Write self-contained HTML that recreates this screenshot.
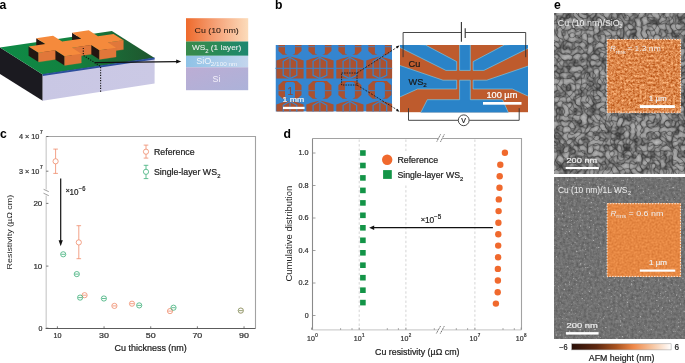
<!DOCTYPE html>
<html><head><meta charset="utf-8"><style>
html,body{margin:0;padding:0;background:#fff;width:685px;height:363px;overflow:hidden}
svg{display:block;will-change:transform}
text{font-family:"Liberation Sans", sans-serif}
</style></head><body>
<svg width="685" height="363" viewBox="0 0 685 363" font-family='"Liberation Sans", sans-serif'>
<defs>
<linearGradient id="gfront" x1="0" y1="0" x2="1" y2="0"><stop offset="0" stop-color="#c9c7e4"/><stop offset="1" stop-color="#cbc9e5"/></linearGradient>
<linearGradient id="ggreen" x1="0" y1="0" x2="1" y2="0"><stop offset="0" stop-color="#0e8a46"/><stop offset="0.5" stop-color="#13813f"/><stop offset="0.8" stop-color="#1c6434"/><stop offset="1" stop-color="#1f552d"/></linearGradient>
<linearGradient id="gcu" x1="0" y1="0" x2="1" y2="0"><stop offset="0" stop-color="#ee6a2c"/><stop offset="0.5" stop-color="#f6a47a"/><stop offset="1" stop-color="#fcdcbb"/></linearGradient>
<linearGradient id="gsio" x1="0" y1="0" x2="1" y2="0"><stop offset="0" stop-color="#8ec2e6"/><stop offset="1" stop-color="#c4d6ee"/></linearGradient>
<linearGradient id="gsi" x1="0" y1="0" x2="1" y2="1"><stop offset="0" stop-color="#bcadd4"/><stop offset="1" stop-color="#acb2d9"/></linearGradient>
<linearGradient id="gws" x1="0" y1="0" x2="1" y2="0"><stop offset="0" stop-color="#3a8a4c"/><stop offset="0.5" stop-color="#2a8a58"/><stop offset="1" stop-color="#1e8770"/></linearGradient>
<linearGradient id="gcbar" x1="0" y1="0" x2="1" y2="0"><stop offset="0" stop-color="#2a1008"/><stop offset="0.25" stop-color="#5e2810"/><stop offset="0.45" stop-color="#a9531f"/><stop offset="0.62" stop-color="#ef8848"/><stop offset="0.82" stop-color="#f7c8a5"/><stop offset="1" stop-color="#ffffff"/></linearGradient>
<filter id="sem1" x="0" y="0" width="1" height="1" color-interpolation-filters="sRGB">
  <feTurbulence type="fractalNoise" baseFrequency="0.165" numOctaves="1" seed="10" result="n1"/>
  <feColorMatrix in="n1" type="matrix" values="1 0 0 0 0  1 0 0 0 0  1 0 0 0 0  0 0 0 0 1" result="g1"/>
  <feComponentTransfer in="g1" result="c1"><feFuncR type="table" tableValues="1.000 1.000 1.000 1.000 1.000 1.000 1.000 1.000 1.000 1.000 1.000 1.000 1.000 0.997 0.991 0.984 0.977 0.971 0.964 0.957 0.951 0.944 0.937 0.931 0.924 0.887 0.806 0.724 0.643 0.561 0.480 0.561 0.643 0.724 0.806 0.887 0.924 0.931 0.937 0.944 0.951 0.957 0.964 0.971 0.977 0.984 0.991 0.997 1.000 1.000 1.000 1.000 1.000 1.000 1.000 1.000 1.000 1.000 1.000 1.000 1.000"/><feFuncG type="table" tableValues="1.000 1.000 1.000 1.000 1.000 1.000 1.000 1.000 1.000 1.000 1.000 1.000 1.000 0.997 0.991 0.984 0.977 0.971 0.964 0.957 0.951 0.944 0.937 0.931 0.924 0.887 0.806 0.724 0.643 0.561 0.480 0.561 0.643 0.724 0.806 0.887 0.924 0.931 0.937 0.944 0.951 0.957 0.964 0.971 0.977 0.984 0.991 0.997 1.000 1.000 1.000 1.000 1.000 1.000 1.000 1.000 1.000 1.000 1.000 1.000 1.000"/><feFuncB type="table" tableValues="1.000 1.000 1.000 1.000 1.000 1.000 1.000 1.000 1.000 1.000 1.000 1.000 1.000 0.997 0.991 0.984 0.977 0.971 0.964 0.957 0.951 0.944 0.937 0.931 0.924 0.887 0.806 0.724 0.643 0.561 0.480 0.561 0.643 0.724 0.806 0.887 0.924 0.931 0.937 0.944 0.951 0.957 0.964 0.971 0.977 0.984 0.991 0.997 1.000 1.000 1.000 1.000 1.000 1.000 1.000 1.000 1.000 1.000 1.000 1.000 1.000"/></feComponentTransfer>
  <feTurbulence type="fractalNoise" baseFrequency="0.165" numOctaves="1" seed="23" result="n2"/>
  <feColorMatrix in="n2" type="matrix" values="1 0 0 0 0  1 0 0 0 0  1 0 0 0 0  0 0 0 0 1" result="g2"/>
  <feComponentTransfer in="g2" result="c2"><feFuncR type="table" tableValues="1.000 1.000 1.000 1.000 1.000 1.000 1.000 1.000 1.000 1.000 1.000 1.000 1.000 0.997 0.991 0.984 0.977 0.971 0.964 0.957 0.951 0.944 0.937 0.931 0.924 0.887 0.806 0.724 0.643 0.561 0.480 0.561 0.643 0.724 0.806 0.887 0.924 0.931 0.937 0.944 0.951 0.957 0.964 0.971 0.977 0.984 0.991 0.997 1.000 1.000 1.000 1.000 1.000 1.000 1.000 1.000 1.000 1.000 1.000 1.000 1.000"/><feFuncG type="table" tableValues="1.000 1.000 1.000 1.000 1.000 1.000 1.000 1.000 1.000 1.000 1.000 1.000 1.000 0.997 0.991 0.984 0.977 0.971 0.964 0.957 0.951 0.944 0.937 0.931 0.924 0.887 0.806 0.724 0.643 0.561 0.480 0.561 0.643 0.724 0.806 0.887 0.924 0.931 0.937 0.944 0.951 0.957 0.964 0.971 0.977 0.984 0.991 0.997 1.000 1.000 1.000 1.000 1.000 1.000 1.000 1.000 1.000 1.000 1.000 1.000 1.000"/><feFuncB type="table" tableValues="1.000 1.000 1.000 1.000 1.000 1.000 1.000 1.000 1.000 1.000 1.000 1.000 1.000 0.997 0.991 0.984 0.977 0.971 0.964 0.957 0.951 0.944 0.937 0.931 0.924 0.887 0.806 0.724 0.643 0.561 0.480 0.561 0.643 0.724 0.806 0.887 0.924 0.931 0.937 0.944 0.951 0.957 0.964 0.971 0.977 0.984 0.991 0.997 1.000 1.000 1.000 1.000 1.000 1.000 1.000 1.000 1.000 1.000 1.000 1.000 1.000"/></feComponentTransfer>
  <feComposite in="c1" in2="c2" operator="arithmetic" k1="1" k2="0" k3="0" k4="0" result="c"/>
  <feTurbulence type="fractalNoise" baseFrequency="0.45" numOctaves="1" seed="21" result="m0"/>
  <feColorMatrix in="m0" type="matrix" values="0 0.22 0 0 0.625  0 0.22 0 0 0.625  0 0.22 0 0 0.625  0 0 0 0 1" result="m"/>
  <feComposite in="c" in2="m" operator="arithmetic" k1="1" k2="0" k3="0" k4="0" result="cm"/>
  <feGaussianBlur in="cm" stdDeviation="1.6" result="bl"/><feComposite in="cm" in2="bl" operator="arithmetic" k1="0" k2="0.65" k3="0.35" k4="0" result="mix"/><feGaussianBlur in="mix" stdDeviation="0.5"/>
</filter>
<filter id="sem2" x="0" y="0" width="1" height="1" color-interpolation-filters="sRGB">
  <feTurbulence type="fractalNoise" baseFrequency="0.38" numOctaves="2" seed="3" result="n"/>
  <feColorMatrix in="n" type="matrix" values="0.22 0 0 0 0.33  0.22 0 0 0 0.33  0.22 0 0 0 0.33  0 0 0 0 1" result="base"/>
  <feTurbulence type="fractalNoise" baseFrequency="0.55" numOctaves="1" seed="12" result="s0"/>
  <feColorMatrix in="s0" type="matrix" values="1 0 0 0 0  1 0 0 0 0  1 0 0 0 0  0 0 0 0 1" result="s1"/>
  <feComponentTransfer in="s1" result="sp"><feFuncR type="table" tableValues="0.000 0.000 0.000 0.000 0.000 0.000 0.000 0.000 0.000 0.000 0.000 0.000 0.000 0.000 0.000 0.000 0.000 0.000 0.000 0.000 0.000 0.000 0.000 0.000 0.000 0.000 0.000 0.028 0.073 0.119 0.165 0.211 0.220 0.220 0.220 0.220 0.220 0.220 0.220 0.220 0.220"/><feFuncG type="table" tableValues="0.000 0.000 0.000 0.000 0.000 0.000 0.000 0.000 0.000 0.000 0.000 0.000 0.000 0.000 0.000 0.000 0.000 0.000 0.000 0.000 0.000 0.000 0.000 0.000 0.000 0.000 0.000 0.028 0.073 0.119 0.165 0.211 0.220 0.220 0.220 0.220 0.220 0.220 0.220 0.220 0.220"/><feFuncB type="table" tableValues="0.000 0.000 0.000 0.000 0.000 0.000 0.000 0.000 0.000 0.000 0.000 0.000 0.000 0.000 0.000 0.000 0.000 0.000 0.000 0.000 0.000 0.000 0.000 0.000 0.000 0.000 0.000 0.028 0.073 0.119 0.165 0.211 0.220 0.220 0.220 0.220 0.220 0.220 0.220 0.220 0.220"/></feComponentTransfer>
  <feComposite in="base" in2="sp" operator="arithmetic" k1="0" k2="1" k3="1" k4="0" result="bs"/>
  <feGaussianBlur in="bs" stdDeviation="0.35"/>
</filter>
<filter id="afm1" x="0" y="0" width="1" height="1" color-interpolation-filters="sRGB">
  <feTurbulence type="fractalNoise" baseFrequency="0.45" numOctaves="3" seed="11" result="n"/>
  <feColorMatrix in="n" type="matrix" values="0.45 0 0 0 0.635  0.65 0 0 0 0.20  0.68 0 0 0 -0.05  0 0 0 0 1"/>
</filter>
<filter id="afm2" x="0" y="0" width="1" height="1" color-interpolation-filters="sRGB">
  <feTurbulence type="fractalNoise" baseFrequency="0.5" numOctaves="2" seed="5" result="n"/>
  <feColorMatrix in="n" type="matrix" values="0.18 0 0 0 0.81  0.2 0 0 0 0.43  0.18 0 0 0 0.17  0 0 0 0 1"/>
</filter>
<clipPath id="cpb1"><rect x="275.5" y="45" width="116.6" height="66.6"/></clipPath>
<clipPath id="cpb2"><rect x="400" y="45" width="128" height="67.4"/></clipPath>
</defs>
<rect width="685" height="363" fill="#fff"/>
<text x="-0.60" y="8.70" font-size="12.20" fill="#000" font-weight="bold">a</text>
<polygon points="0.00,47.40 42.70,74.50 42.70,100.70 0.00,74.00" fill="#1b1a20" />
<polygon points="42.70,74.50 154.60,58.00 154.60,83.60 42.70,100.70" fill="url(#gfront)" />
<polygon points="0.00,47.40 111.90,30.90 154.60,58.00 42.70,74.50" fill="url(#ggreen)" />
<polygon points="42.70,74.10 154.60,57.60 154.60,59.50 42.70,76.00" fill="#2c4f9c" />
<polygon points="97.74,36.24 107.65,42.53 107.65,51.83 97.74,45.54" fill="#241611" />
<polygon points="107.65,42.53 123.43,40.21 123.43,49.51 107.65,51.83" fill="#e1773a" stroke="#e1773a" stroke-width="0.25"/>
<polygon points="72.07,32.82 99.40,50.16 99.40,59.46 72.07,42.12" fill="#241611" />
<polygon points="99.40,50.16 116.07,47.70 116.07,57.00 99.40,59.46" fill="#e1773a" stroke="#e1773a" stroke-width="0.25"/>
<polygon points="62.16,41.49 72.06,47.78 72.06,57.08 62.16,50.79" fill="#241611" />
<polygon points="72.06,47.78 91.20,44.96 91.20,54.26 72.06,57.08" fill="#e1773a" stroke="#e1773a" stroke-width="0.25"/>
<polygon points="36.28,38.19 64.55,56.13 64.55,65.43 36.28,47.49" fill="#241611" />
<polygon points="64.55,56.13 81.33,53.66 81.33,62.96 64.55,65.43" fill="#e1773a" stroke="#e1773a" stroke-width="0.25"/>
<polygon points="28.59,46.44 38.49,52.73 38.49,62.03 28.59,55.74" fill="#241611" />
<polygon points="38.49,52.73 55.28,50.25 55.28,59.55 38.49,62.03" fill="#e1773a" stroke="#e1773a" stroke-width="0.25"/>
<polygon points="28.59,46.44 45.37,43.97 36.28,38.19 53.06,35.72 62.16,41.49 81.29,38.67 72.07,32.82 88.74,30.36 97.97,36.21 113.52,33.92 123.43,40.21 107.87,42.50 116.07,47.70 99.40,50.16 91.20,44.96 72.06,47.78 81.33,53.66 64.55,56.13 55.28,50.25 38.49,52.73" fill="#f58a3c" />
<path d="M83.3,47.9 L83.3,55.3 L100.6,66.4 L100.6,92" fill="none" stroke="#111" stroke-width="1.1" stroke-dasharray="1.2,1.4"/>
<path d="M94.8,62.6 L177.5,61.6" stroke="#111" stroke-width="1.3" fill="none"/>
<polygon points="181.30,61.50 176.20,59.50 176.20,63.60" fill="#111" />
<rect x="186.0" y="18.2" width="62.2" height="23.4" fill="url(#gcu)"/>
<rect x="186.0" y="41.5" width="62.2" height="14.3" fill="url(#gws)"/>
<rect x="186.0" y="55.8" width="62.2" height="11.6" fill="url(#gsio)"/>
<rect x="186.0" y="67.3" width="62.2" height="22.9" fill="url(#gsi)"/>
<text x="194.50" y="32.90" font-size="8.00" fill="#2a1a12" stroke="#2a1a12" stroke-width="0.08" textLength="44.20" lengthAdjust="spacingAndGlyphs">Cu (10 nm)</text>
<text x="191.90" y="50.40" font-size="7.60" fill="#f2f2f2" stroke="#f2f2f2" stroke-width="0.05" textLength="49.40" lengthAdjust="spacingAndGlyphs">WS<tspan font-size="5.4" dy="2.1">2</tspan><tspan dy="-2.1"> (1 layer)</tspan></text>
<text x="196.30" y="63.70" font-size="8.80" fill="#f0f4fa" textLength="15.10" lengthAdjust="spacingAndGlyphs">SiO</text>
<text x="210.80" y="66.00" font-size="5.50" fill="#f0f4fa" textLength="26.60" lengthAdjust="spacingAndGlyphs">2/100 nm</text>
<text x="212.60" y="81.70" font-size="8.80" fill="#f4f0fa" textLength="7.90" lengthAdjust="spacingAndGlyphs">Si</text>
<text x="275.10" y="8.80" font-size="12.20" fill="#000" font-weight="bold">b</text>
<g clip-path="url(#cpb1)">
<rect x="275.5" y="45" width="116.6" height="66.6" fill="#3585cf"/>
<polygon points="246.45,16.50 252.25,14.50 260.05,12.50 267.85,14.50 273.65,16.50 273.65,34.50 246.45,34.50" fill="#aa5130" />
<polygon points="260.1,13.3 266.9,17.3 266.9,31.3 260.1,34.5 253.2,31.3 253.2,17.3" fill="none" stroke="#3585cf" stroke-width="1.2"/>
<path d="M260.1,11.3 L260.1,34.8 M245.1,24.3 L275.1,24.3" stroke="#3585cf" stroke-width="1.0"/>
<polygon points="248.55,41.20 253.05,36.90 267.05,36.90 271.55,41.20 271.55,51.00 267.35,54.80 252.75,54.80 248.55,51.00" fill="#aa5130" />
<rect x="255.1" y="38.0" width="10.0" height="16.4" rx="2.5" fill="#3585cf"/>
<polygon points="254.85,52.20 257.55,55.00 262.55,55.00 265.25,52.20" fill="#3585cf" />
<path d="M248.1,46.7 L255.1,46.7 M265.1,46.7 L272.1,46.7" stroke="#3585cf" stroke-width="0.9"/>
<polygon points="246.45,60.50 252.25,58.50 260.05,56.50 267.85,58.50 273.65,60.50 273.65,78.50 246.45,78.50" fill="#aa5130" />
<polygon points="260.1,57.3 266.9,61.3 266.9,75.3 260.1,78.5 253.2,75.3 253.2,61.3" fill="none" stroke="#3585cf" stroke-width="1.2"/>
<path d="M260.1,55.3 L260.1,78.8 M245.1,68.3 L275.1,68.3" stroke="#3585cf" stroke-width="1.0"/>
<polygon points="248.55,85.20 253.05,80.90 267.05,80.90 271.55,85.20 271.55,95.00 267.35,98.80 252.75,98.80 248.55,95.00" fill="#aa5130" />
<rect x="255.1" y="82.0" width="10.0" height="16.4" rx="2.5" fill="#3585cf"/>
<polygon points="254.85,96.20 257.55,99.00 262.55,99.00 265.25,96.20" fill="#3585cf" />
<path d="M248.1,90.7 L255.1,90.7 M265.1,90.7 L272.1,90.7" stroke="#3585cf" stroke-width="0.9"/>
<polygon points="246.45,104.50 252.25,102.50 260.05,100.50 267.85,102.50 273.65,104.50 273.65,122.50 246.45,122.50" fill="#aa5130" />
<polygon points="260.1,101.3 266.9,105.3 266.9,119.3 260.1,122.5 253.2,119.3 253.2,105.3" fill="none" stroke="#3585cf" stroke-width="1.2"/>
<path d="M260.1,99.3 L260.1,122.8 M245.1,112.3 L275.1,112.3" stroke="#3585cf" stroke-width="1.0"/>
<polygon points="248.55,129.20 253.05,124.90 267.05,124.90 271.55,129.20 271.55,139.00 267.35,142.80 252.75,142.80 248.55,139.00" fill="#aa5130" />
<rect x="255.1" y="126.0" width="10.0" height="16.4" rx="2.5" fill="#3585cf"/>
<polygon points="254.85,140.20 257.55,143.00 262.55,143.00 265.25,140.20" fill="#3585cf" />
<path d="M248.1,134.7 L255.1,134.7 M265.1,134.7 L272.1,134.7" stroke="#3585cf" stroke-width="0.9"/>
<polygon points="276.40,16.50 282.20,14.50 290.00,12.50 297.80,14.50 303.60,16.50 303.60,34.50 276.40,34.50" fill="#aa5130" />
<polygon points="290.0,13.3 296.8,17.3 296.8,31.3 290.0,34.5 283.2,31.3 283.2,17.3" fill="none" stroke="#3585cf" stroke-width="1.2"/>
<path d="M290.0,11.3 L290.0,34.8 M275.0,24.3 L305.0,24.3" stroke="#3585cf" stroke-width="1.0"/>
<polygon points="278.50,41.20 283.00,36.90 297.00,36.90 301.50,41.20 301.50,51.00 297.30,54.80 282.70,54.80 278.50,51.00" fill="#aa5130" />
<rect x="285.0" y="38.0" width="10.0" height="16.4" rx="2.5" fill="#3585cf"/>
<polygon points="284.80,52.20 287.50,55.00 292.50,55.00 295.20,52.20" fill="#3585cf" />
<path d="M278.0,46.7 L285.0,46.7 M295.0,46.7 L302.0,46.7" stroke="#3585cf" stroke-width="0.9"/>
<polygon points="276.40,60.50 282.20,58.50 290.00,56.50 297.80,58.50 303.60,60.50 303.60,78.50 276.40,78.50" fill="#aa5130" />
<polygon points="290.0,57.3 296.8,61.3 296.8,75.3 290.0,78.5 283.2,75.3 283.2,61.3" fill="none" stroke="#3585cf" stroke-width="1.2"/>
<path d="M290.0,55.3 L290.0,78.8 M275.0,68.3 L305.0,68.3" stroke="#3585cf" stroke-width="1.0"/>
<polygon points="278.50,85.20 283.00,80.90 297.00,80.90 301.50,85.20 301.50,95.00 297.30,98.80 282.70,98.80 278.50,95.00" fill="#aa5130" />
<rect x="285.0" y="82.0" width="10.0" height="16.4" rx="2.5" fill="#3585cf"/>
<polygon points="284.80,96.20 287.50,99.00 292.50,99.00 295.20,96.20" fill="#3585cf" />
<path d="M278.0,90.7 L285.0,90.7 M295.0,90.7 L302.0,90.7" stroke="#3585cf" stroke-width="0.9"/>
<polygon points="276.40,104.50 282.20,102.50 290.00,100.50 297.80,102.50 303.60,104.50 303.60,122.50 276.40,122.50" fill="#aa5130" />
<polygon points="290.0,101.3 296.8,105.3 296.8,119.3 290.0,122.5 283.2,119.3 283.2,105.3" fill="none" stroke="#3585cf" stroke-width="1.2"/>
<path d="M290.0,99.3 L290.0,122.8 M275.0,112.3 L305.0,112.3" stroke="#3585cf" stroke-width="1.0"/>
<polygon points="278.50,129.20 283.00,124.90 297.00,124.90 301.50,129.20 301.50,139.00 297.30,142.80 282.70,142.80 278.50,139.00" fill="#aa5130" />
<rect x="285.0" y="126.0" width="10.0" height="16.4" rx="2.5" fill="#3585cf"/>
<polygon points="284.80,140.20 287.50,143.00 292.50,143.00 295.20,140.20" fill="#3585cf" />
<path d="M278.0,134.7 L285.0,134.7 M295.0,134.7 L302.0,134.7" stroke="#3585cf" stroke-width="0.9"/>
<polygon points="306.35,16.50 312.15,14.50 319.95,12.50 327.75,14.50 333.55,16.50 333.55,34.50 306.35,34.50" fill="#aa5130" />
<polygon points="319.9,13.3 326.8,17.3 326.8,31.3 319.9,34.5 313.1,31.3 313.1,17.3" fill="none" stroke="#3585cf" stroke-width="1.2"/>
<path d="M319.9,11.3 L319.9,34.8 M304.9,24.3 L334.9,24.3" stroke="#3585cf" stroke-width="1.0"/>
<polygon points="308.45,41.20 312.95,36.90 326.95,36.90 331.45,41.20 331.45,51.00 327.25,54.80 312.65,54.80 308.45,51.00" fill="#aa5130" />
<rect x="314.9" y="38.0" width="10.0" height="16.4" rx="2.5" fill="#3585cf"/>
<polygon points="314.75,52.20 317.45,55.00 322.45,55.00 325.15,52.20" fill="#3585cf" />
<path d="M307.9,46.7 L314.9,46.7 M324.9,46.7 L331.9,46.7" stroke="#3585cf" stroke-width="0.9"/>
<polygon points="306.35,60.50 312.15,58.50 319.95,56.50 327.75,58.50 333.55,60.50 333.55,78.50 306.35,78.50" fill="#aa5130" />
<polygon points="319.9,57.3 326.8,61.3 326.8,75.3 319.9,78.5 313.1,75.3 313.1,61.3" fill="none" stroke="#3585cf" stroke-width="1.2"/>
<path d="M319.9,55.3 L319.9,78.8 M304.9,68.3 L334.9,68.3" stroke="#3585cf" stroke-width="1.0"/>
<polygon points="308.45,85.20 312.95,80.90 326.95,80.90 331.45,85.20 331.45,95.00 327.25,98.80 312.65,98.80 308.45,95.00" fill="#aa5130" />
<rect x="314.9" y="82.0" width="10.0" height="16.4" rx="2.5" fill="#3585cf"/>
<polygon points="314.75,96.20 317.45,99.00 322.45,99.00 325.15,96.20" fill="#3585cf" />
<path d="M307.9,90.7 L314.9,90.7 M324.9,90.7 L331.9,90.7" stroke="#3585cf" stroke-width="0.9"/>
<polygon points="306.35,104.50 312.15,102.50 319.95,100.50 327.75,102.50 333.55,104.50 333.55,122.50 306.35,122.50" fill="#aa5130" />
<polygon points="319.9,101.3 326.8,105.3 326.8,119.3 319.9,122.5 313.1,119.3 313.1,105.3" fill="none" stroke="#3585cf" stroke-width="1.2"/>
<path d="M319.9,99.3 L319.9,122.8 M304.9,112.3 L334.9,112.3" stroke="#3585cf" stroke-width="1.0"/>
<polygon points="308.45,129.20 312.95,124.90 326.95,124.90 331.45,129.20 331.45,139.00 327.25,142.80 312.65,142.80 308.45,139.00" fill="#aa5130" />
<rect x="314.9" y="126.0" width="10.0" height="16.4" rx="2.5" fill="#3585cf"/>
<polygon points="314.75,140.20 317.45,143.00 322.45,143.00 325.15,140.20" fill="#3585cf" />
<path d="M307.9,134.7 L314.9,134.7 M324.9,134.7 L331.9,134.7" stroke="#3585cf" stroke-width="0.9"/>
<polygon points="336.30,16.50 342.10,14.50 349.90,12.50 357.70,14.50 363.50,16.50 363.50,34.50 336.30,34.50" fill="#aa5130" />
<polygon points="349.9,13.3 356.7,17.3 356.7,31.3 349.9,34.5 343.1,31.3 343.1,17.3" fill="none" stroke="#3585cf" stroke-width="1.2"/>
<path d="M349.9,11.3 L349.9,34.8 M334.9,24.3 L364.9,24.3" stroke="#3585cf" stroke-width="1.0"/>
<polygon points="338.40,41.20 342.90,36.90 356.90,36.90 361.40,41.20 361.40,51.00 357.20,54.80 342.60,54.80 338.40,51.00" fill="#aa5130" />
<rect x="344.9" y="38.0" width="10.0" height="16.4" rx="2.5" fill="#3585cf"/>
<polygon points="344.70,52.20 347.40,55.00 352.40,55.00 355.10,52.20" fill="#3585cf" />
<path d="M337.9,46.7 L344.9,46.7 M354.9,46.7 L361.9,46.7" stroke="#3585cf" stroke-width="0.9"/>
<polygon points="336.30,60.50 342.10,58.50 349.90,56.50 357.70,58.50 363.50,60.50 363.50,78.50 336.30,78.50" fill="#aa5130" />
<polygon points="349.9,57.3 356.7,61.3 356.7,75.3 349.9,78.5 343.1,75.3 343.1,61.3" fill="none" stroke="#3585cf" stroke-width="1.2"/>
<path d="M349.9,55.3 L349.9,78.8 M334.9,68.3 L364.9,68.3" stroke="#3585cf" stroke-width="1.0"/>
<polygon points="338.40,85.20 342.90,80.90 356.90,80.90 361.40,85.20 361.40,95.00 357.20,98.80 342.60,98.80 338.40,95.00" fill="#aa5130" />
<rect x="344.9" y="82.0" width="10.0" height="16.4" rx="2.5" fill="#3585cf"/>
<polygon points="344.70,96.20 347.40,99.00 352.40,99.00 355.10,96.20" fill="#3585cf" />
<path d="M337.9,90.7 L344.9,90.7 M354.9,90.7 L361.9,90.7" stroke="#3585cf" stroke-width="0.9"/>
<polygon points="336.30,104.50 342.10,102.50 349.90,100.50 357.70,102.50 363.50,104.50 363.50,122.50 336.30,122.50" fill="#aa5130" />
<polygon points="349.9,101.3 356.7,105.3 356.7,119.3 349.9,122.5 343.1,119.3 343.1,105.3" fill="none" stroke="#3585cf" stroke-width="1.2"/>
<path d="M349.9,99.3 L349.9,122.8 M334.9,112.3 L364.9,112.3" stroke="#3585cf" stroke-width="1.0"/>
<polygon points="338.40,129.20 342.90,124.90 356.90,124.90 361.40,129.20 361.40,139.00 357.20,142.80 342.60,142.80 338.40,139.00" fill="#aa5130" />
<rect x="344.9" y="126.0" width="10.0" height="16.4" rx="2.5" fill="#3585cf"/>
<polygon points="344.70,140.20 347.40,143.00 352.40,143.00 355.10,140.20" fill="#3585cf" />
<path d="M337.9,134.7 L344.9,134.7 M354.9,134.7 L361.9,134.7" stroke="#3585cf" stroke-width="0.9"/>
<polygon points="366.25,16.50 372.05,14.50 379.85,12.50 387.65,14.50 393.45,16.50 393.45,34.50 366.25,34.50" fill="#aa5130" />
<polygon points="379.9,13.3 386.7,17.3 386.7,31.3 379.9,34.5 373.1,31.3 373.1,17.3" fill="none" stroke="#3585cf" stroke-width="1.2"/>
<path d="M379.9,11.3 L379.9,34.8 M364.9,24.3 L394.9,24.3" stroke="#3585cf" stroke-width="1.0"/>
<polygon points="368.35,41.20 372.85,36.90 386.85,36.90 391.35,41.20 391.35,51.00 387.15,54.80 372.55,54.80 368.35,51.00" fill="#aa5130" />
<rect x="374.9" y="38.0" width="10.0" height="16.4" rx="2.5" fill="#3585cf"/>
<polygon points="374.65,52.20 377.35,55.00 382.35,55.00 385.05,52.20" fill="#3585cf" />
<path d="M367.9,46.7 L374.9,46.7 M384.9,46.7 L391.9,46.7" stroke="#3585cf" stroke-width="0.9"/>
<polygon points="366.25,60.50 372.05,58.50 379.85,56.50 387.65,58.50 393.45,60.50 393.45,78.50 366.25,78.50" fill="#aa5130" />
<polygon points="379.9,57.3 386.7,61.3 386.7,75.3 379.9,78.5 373.1,75.3 373.1,61.3" fill="none" stroke="#3585cf" stroke-width="1.2"/>
<path d="M379.9,55.3 L379.9,78.8 M364.9,68.3 L394.9,68.3" stroke="#3585cf" stroke-width="1.0"/>
<polygon points="368.35,85.20 372.85,80.90 386.85,80.90 391.35,85.20 391.35,95.00 387.15,98.80 372.55,98.80 368.35,95.00" fill="#aa5130" />
<rect x="374.9" y="82.0" width="10.0" height="16.4" rx="2.5" fill="#3585cf"/>
<polygon points="374.65,96.20 377.35,99.00 382.35,99.00 385.05,96.20" fill="#3585cf" />
<path d="M367.9,90.7 L374.9,90.7 M384.9,90.7 L391.9,90.7" stroke="#3585cf" stroke-width="0.9"/>
<polygon points="366.25,104.50 372.05,102.50 379.85,100.50 387.65,102.50 393.45,104.50 393.45,122.50 366.25,122.50" fill="#aa5130" />
<polygon points="379.9,101.3 386.7,105.3 386.7,119.3 379.9,122.5 373.1,119.3 373.1,105.3" fill="none" stroke="#3585cf" stroke-width="1.2"/>
<path d="M379.9,99.3 L379.9,122.8 M364.9,112.3 L394.9,112.3" stroke="#3585cf" stroke-width="1.0"/>
<polygon points="368.35,129.20 372.85,124.90 386.85,124.90 391.35,129.20 391.35,139.00 387.15,142.80 372.55,142.80 368.35,139.00" fill="#aa5130" />
<rect x="374.9" y="126.0" width="10.0" height="16.4" rx="2.5" fill="#3585cf"/>
<polygon points="374.65,140.20 377.35,143.00 382.35,143.00 385.05,140.20" fill="#3585cf" />
<path d="M367.9,134.7 L374.9,134.7 M384.9,134.7 L391.9,134.7" stroke="#3585cf" stroke-width="0.9"/>
<polygon points="396.20,16.50 402.00,14.50 409.80,12.50 417.60,14.50 423.40,16.50 423.40,34.50 396.20,34.50" fill="#aa5130" />
<polygon points="409.8,13.3 416.6,17.3 416.6,31.3 409.8,34.5 403.0,31.3 403.0,17.3" fill="none" stroke="#3585cf" stroke-width="1.2"/>
<path d="M409.8,11.3 L409.8,34.8 M394.8,24.3 L424.8,24.3" stroke="#3585cf" stroke-width="1.0"/>
<polygon points="398.30,41.20 402.80,36.90 416.80,36.90 421.30,41.20 421.30,51.00 417.10,54.80 402.50,54.80 398.30,51.00" fill="#aa5130" />
<rect x="404.8" y="38.0" width="10.0" height="16.4" rx="2.5" fill="#3585cf"/>
<polygon points="404.60,52.20 407.30,55.00 412.30,55.00 415.00,52.20" fill="#3585cf" />
<path d="M397.8,46.7 L404.8,46.7 M414.8,46.7 L421.8,46.7" stroke="#3585cf" stroke-width="0.9"/>
<polygon points="396.20,60.50 402.00,58.50 409.80,56.50 417.60,58.50 423.40,60.50 423.40,78.50 396.20,78.50" fill="#aa5130" />
<polygon points="409.8,57.3 416.6,61.3 416.6,75.3 409.8,78.5 403.0,75.3 403.0,61.3" fill="none" stroke="#3585cf" stroke-width="1.2"/>
<path d="M409.8,55.3 L409.8,78.8 M394.8,68.3 L424.8,68.3" stroke="#3585cf" stroke-width="1.0"/>
<polygon points="398.30,85.20 402.80,80.90 416.80,80.90 421.30,85.20 421.30,95.00 417.10,98.80 402.50,98.80 398.30,95.00" fill="#aa5130" />
<rect x="404.8" y="82.0" width="10.0" height="16.4" rx="2.5" fill="#3585cf"/>
<polygon points="404.60,96.20 407.30,99.00 412.30,99.00 415.00,96.20" fill="#3585cf" />
<path d="M397.8,90.7 L404.8,90.7 M414.8,90.7 L421.8,90.7" stroke="#3585cf" stroke-width="0.9"/>
<polygon points="396.20,104.50 402.00,102.50 409.80,100.50 417.60,102.50 423.40,104.50 423.40,122.50 396.20,122.50" fill="#aa5130" />
<polygon points="409.8,101.3 416.6,105.3 416.6,119.3 409.8,122.5 403.0,119.3 403.0,105.3" fill="none" stroke="#3585cf" stroke-width="1.2"/>
<path d="M409.8,99.3 L409.8,122.8 M394.8,112.3 L424.8,112.3" stroke="#3585cf" stroke-width="1.0"/>
<polygon points="398.30,129.20 402.80,124.90 416.80,124.90 421.30,129.20 421.30,139.00 417.10,142.80 402.50,142.80 398.30,139.00" fill="#aa5130" />
<rect x="404.8" y="126.0" width="10.0" height="16.4" rx="2.5" fill="#3585cf"/>
<polygon points="404.60,140.20 407.30,143.00 412.30,143.00 415.00,140.20" fill="#3585cf" />
<path d="M397.8,134.7 L404.8,134.7 M414.8,134.7 L421.8,134.7" stroke="#3585cf" stroke-width="0.9"/>
</g>
<text x="287.60" y="94.70" font-size="11.00" fill="#8c4a3a" stroke="#8c4a3a" stroke-width="0.22" textLength="5.60" lengthAdjust="spacingAndGlyphs">1</text>
<text x="282.60" y="102.40" font-size="7.60" fill="#f4f4f4" stroke="#f4f4f4" stroke-width="0.22" textLength="21.60" lengthAdjust="spacingAndGlyphs">1 mm</text>
<rect x="283" y="106.8" width="21.6" height="2.3" fill="#fff"/>
<rect x="341.6" y="73" width="15.4" height="12" fill="none" stroke="#111" stroke-width="0.8" stroke-dasharray="1.5,1"/>
<path d="M357,73 L399,46 M357,85 L399,111" stroke="#111" stroke-width="0.8" stroke-dasharray="2,1.3" fill="none"/>
<polygon points="399.50,45.50 396.00,46.20 397.50,48.60" fill="#111" />
<polygon points="399.50,111.80 396.00,111.10 397.50,108.70" fill="#111" />
<g clip-path="url(#cpb2)">
<rect x="400" y="45" width="128" height="67.4" fill="#be5b2d"/>
<polygon points="398.00,43.00 425.40,45.00 456.70,61.60 456.70,70.40 445.90,70.40 398.00,46.50" fill="#2a83c8" stroke="#7fd3f2" stroke-width="0.6"/>
<polygon points="531.80,43.00 504.40,45.00 473.10,61.60 473.10,70.40 483.90,70.40 531.80,46.50" fill="#2a83c8" stroke="#7fd3f2" stroke-width="0.6"/>
<polygon points="398.00,64.80 443.00,80.20 456.70,80.20 456.70,89.00 417.50,89.00 398.00,97.80" fill="#2a83c8" stroke="#7fd3f2" stroke-width="0.6"/>
<polygon points="531.80,64.80 486.80,80.20 473.10,80.20 473.10,89.00 512.30,89.00 531.80,97.80" fill="#2a83c8" stroke="#7fd3f2" stroke-width="0.6"/>
<polygon points="459.60,43.00 470.30,43.00 470.30,70.40 459.60,70.40" fill="#2a83c8" stroke="#7fd3f2" stroke-width="0.6"/>
<polygon points="459.60,80.20 470.30,80.20 470.30,99.70 502.50,99.70 509.00,114.00 420.00,114.00 427.30,99.70 459.60,99.70" fill="#2a83c8" stroke="#7fd3f2" stroke-width="0.6"/>
</g>
<text x="408.50" y="67.20" font-size="9.20" fill="#1a1a1a" stroke="#1a1a1a" stroke-width="0.22">Cu</text>
<text x="408.50" y="85.20" font-size="9.20" fill="#1a1a1a" stroke="#1a1a1a" stroke-width="0.22">WS<tspan font-size="6.2" dy="2.2">2</tspan></text>
<text x="486.50" y="97.80" font-size="9.00" fill="#fff" stroke="#fff" stroke-width="0.22" textLength="30.80" lengthAdjust="spacingAndGlyphs">100 µm</text>
<rect x="483" y="102" width="38.5" height="2.7" fill="#fff"/>
<path d="M403.1,57.2 L403.1,32.5 L461.4,32.5 M465.2,32.5 L525.7,32.5 L525.7,57.2" stroke="#333" stroke-width="0.9" fill="none"/>
<path d="M461.4,22 L461.4,41.8 M465.2,28.3 L465.2,38" stroke="#333" stroke-width="1.1" fill="none"/>
<path d="M408.5,108.2 L408.5,120.3 L458.3,120.3 M469.1,120.3 L519.2,120.3 L519.2,108.2" stroke="#333" stroke-width="0.9" fill="none"/>
<circle cx="463.7" cy="120.3" r="5.4" fill="#fff" stroke="#333" stroke-width="0.9"/>
<text x="463.70" y="123.00" font-size="7.00" fill="#222" stroke="#222" stroke-width="0.22" text-anchor="middle">V</text>
<text x="0.00" y="138.20" font-size="12.20" fill="#000" font-weight="bold">c</text>
<path d="M46.2,136.5 L255.5,136.5 L255.5,328.5" stroke="#a2a2a2" stroke-width="1.1" fill="none"/>
<line x1="46.20" y1="136.50" x2="46.20" y2="189.40" stroke="#cfcfcf" stroke-width="1.30" />
<line x1="46.20" y1="195.60" x2="46.20" y2="328.50" stroke="#cfcfcf" stroke-width="1.30" />
<line x1="45.60" y1="328.50" x2="255.50" y2="328.50" stroke="#5c5c5c" stroke-width="1.10" />
<line x1="43.60" y1="189.30" x2="48.80" y2="191.70" stroke="#888" stroke-width="0.80" />
<line x1="43.50" y1="193.20" x2="48.80" y2="195.70" stroke="#888" stroke-width="0.80" />
<line x1="46.20" y1="328.20" x2="48.40" y2="328.20" stroke="#555" stroke-width="0.80" />
<text x="42.30" y="330.70" font-size="7.00" fill="#333" stroke="#333" stroke-width="0.22" text-anchor="end">0</text>
<line x1="46.20" y1="266.10" x2="48.40" y2="266.10" stroke="#555" stroke-width="0.80" />
<text x="42.30" y="268.60" font-size="7.00" fill="#333" stroke="#333" stroke-width="0.22" textLength="8.90" lengthAdjust="spacingAndGlyphs" text-anchor="end">10</text>
<line x1="46.20" y1="203.40" x2="48.40" y2="203.40" stroke="#555" stroke-width="0.80" />
<text x="42.30" y="205.90" font-size="7.00" fill="#333" stroke="#333" stroke-width="0.22" textLength="8.90" lengthAdjust="spacingAndGlyphs" text-anchor="end">20</text>
<line x1="46.20" y1="136.50" x2="48.40" y2="136.50" stroke="#555" stroke-width="0.80" />
<text x="39.40" y="139.20" font-size="7.30" fill="#333" stroke="#333" stroke-width="0.22" text-anchor="end">4 × 10</text>
<text x="40.00" y="134.20" font-size="4.80" fill="#333" stroke="#333" stroke-width="0.22">7</text>
<line x1="46.20" y1="171.20" x2="48.40" y2="171.20" stroke="#555" stroke-width="0.80" />
<text x="39.40" y="173.90" font-size="7.30" fill="#333" stroke="#333" stroke-width="0.22" text-anchor="end">3 × 10</text>
<text x="40.00" y="168.90" font-size="4.80" fill="#333" stroke="#333" stroke-width="0.22">7</text>
<line x1="57.40" y1="328.50" x2="57.40" y2="326.30" stroke="#555" stroke-width="0.80" />
<text x="57.40" y="337.80" font-size="7.00" fill="#333" stroke="#333" stroke-width="0.22" textLength="8.00" lengthAdjust="spacingAndGlyphs" text-anchor="middle">10</text>
<line x1="104.06" y1="328.50" x2="104.06" y2="326.30" stroke="#555" stroke-width="0.80" />
<text x="104.06" y="337.80" font-size="7.00" fill="#333" stroke="#333" stroke-width="0.22" textLength="9.90" lengthAdjust="spacingAndGlyphs" text-anchor="middle">30</text>
<line x1="150.72" y1="328.50" x2="150.72" y2="326.30" stroke="#555" stroke-width="0.80" />
<text x="150.72" y="337.80" font-size="7.00" fill="#333" stroke="#333" stroke-width="0.22" textLength="9.90" lengthAdjust="spacingAndGlyphs" text-anchor="middle">50</text>
<line x1="197.38" y1="328.50" x2="197.38" y2="326.30" stroke="#555" stroke-width="0.80" />
<text x="197.38" y="337.80" font-size="7.00" fill="#333" stroke="#333" stroke-width="0.22" textLength="9.90" lengthAdjust="spacingAndGlyphs" text-anchor="middle">70</text>
<line x1="244.04" y1="328.50" x2="244.04" y2="326.30" stroke="#555" stroke-width="0.80" />
<text x="244.04" y="337.80" font-size="7.00" fill="#333" stroke="#333" stroke-width="0.22" textLength="9.90" lengthAdjust="spacingAndGlyphs" text-anchor="middle">90</text>
<text x="114.60" y="350.90" font-size="8.60" fill="#222" stroke="#222" stroke-width="0.22" textLength="72.20" lengthAdjust="spacingAndGlyphs">Cu thickness (nm)</text>
<text transform="translate(12.4,269.4) rotate(-90)" font-size="7.4" fill="#222" textLength="74.5" lengthAdjust="spacingAndGlyphs">Resistivity (µΩ cm)</text>
<circle cx="55.6" cy="161.3" r="2.6" fill="none" stroke="#ef8a6a" stroke-width="0.8"/><path d="M55.6,149.1 L55.6,158.7 M55.6,163.9 L55.6,173.4 M53.3,149.1 L57.9,149.1 M53.3,173.4 L57.9,173.4" stroke="#ef8a6a" stroke-width="0.8"/>
<circle cx="78.8" cy="242.4" r="2.6" fill="none" stroke="#ef8a6a" stroke-width="0.8"/><path d="M78.8,225.7 L78.8,239.8 M78.8,245.0 L78.8,258.7 M76.5,225.7 L81.1,225.7 M76.5,258.7 L81.1,258.7" stroke="#ef8a6a" stroke-width="0.8"/>
<circle cx="63.2" cy="254.3" r="2.6" fill="none" stroke="#3cae78" stroke-width="0.8"/><line x1="61.20" y1="254.30" x2="65.20" y2="254.30" stroke="#3cae78" stroke-width="0.80" />
<circle cx="76.8" cy="274.1" r="2.6" fill="none" stroke="#3cae78" stroke-width="0.8"/><line x1="74.80" y1="274.10" x2="78.80" y2="274.10" stroke="#3cae78" stroke-width="0.80" />
<circle cx="84.6" cy="295.2" r="2.6" fill="none" stroke="#ef8a6a" stroke-width="0.8"/><line x1="82.60" y1="295.20" x2="86.60" y2="295.20" stroke="#ef8a6a" stroke-width="0.80" />
<circle cx="80.1" cy="297.6" r="2.6" fill="none" stroke="#3cae78" stroke-width="0.8"/><line x1="78.10" y1="297.60" x2="82.10" y2="297.60" stroke="#3cae78" stroke-width="0.80" />
<circle cx="103.9" cy="298.5" r="2.6" fill="none" stroke="#3cae78" stroke-width="0.8"/><line x1="101.90" y1="298.50" x2="105.90" y2="298.50" stroke="#3cae78" stroke-width="0.80" />
<circle cx="114.4" cy="305.9" r="2.6" fill="none" stroke="#ef8a6a" stroke-width="0.8"/><line x1="112.40" y1="305.90" x2="116.40" y2="305.90" stroke="#ef8a6a" stroke-width="0.80" />
<circle cx="132.0" cy="303.7" r="2.6" fill="none" stroke="#ef8a6a" stroke-width="0.8"/><line x1="130.00" y1="303.70" x2="134.00" y2="303.70" stroke="#ef8a6a" stroke-width="0.80" />
<circle cx="139.2" cy="305.4" r="2.6" fill="none" stroke="#3cae78" stroke-width="0.8"/><line x1="137.20" y1="305.40" x2="141.20" y2="305.40" stroke="#3cae78" stroke-width="0.80" />
<circle cx="170.0" cy="311.1" r="2.6" fill="none" stroke="#ef8a6a" stroke-width="0.8"/><line x1="168.00" y1="311.10" x2="172.00" y2="311.10" stroke="#ef8a6a" stroke-width="0.80" />
<circle cx="173.5" cy="307.7" r="2.6" fill="none" stroke="#3cae78" stroke-width="0.8"/><line x1="171.50" y1="307.70" x2="175.50" y2="307.70" stroke="#3cae78" stroke-width="0.80" />
<circle cx="240.8" cy="310.6" r="2.6" fill="none" stroke="#ef8a6a" stroke-width="0.8"/><line x1="238.80" y1="310.60" x2="242.80" y2="310.60" stroke="#ef8a6a" stroke-width="0.80" />
<circle cx="240.8" cy="310.6" r="2.6" fill="none" stroke="#3cae78" stroke-opacity="0.6" stroke-width="0.8"/><line x1="238.80" y1="310.60" x2="242.80" y2="310.60" stroke="#3cae78" stroke-opacity="0.6" stroke-width="0.80" />
<line x1="60.70" y1="178.50" x2="60.70" y2="241.00" stroke="#111" stroke-width="1.20" />
<polygon points="60.70,246.30 58.60,240.20 62.80,240.20" fill="#111" />
<text x="65.40" y="193.20" font-size="7.50" fill="#222" stroke="#222" stroke-width="0.22">×</text>
<text x="69.60" y="194.80" font-size="9.30" fill="#222" stroke="#222" stroke-width="0.22" textLength="9.00" lengthAdjust="spacingAndGlyphs">10</text>
<text x="78.80" y="190.90" font-size="6.60" fill="#222" stroke="#222" stroke-width="0.22" textLength="6.60" lengthAdjust="spacingAndGlyphs">−6</text>
<path d="M146,145.1 L146,158.1 M143.7,145.1 L148.3,145.1 M143.7,158.1 L148.3,158.1" stroke="#ef8a6a" stroke-width="0.8"/>
<circle cx="146" cy="151.7" r="2.6" fill="#fff" stroke="#ef8a6a" stroke-width="0.8"/>
<path d="M146,165.3 L146,178.6 M143.7,165.3 L148.3,165.3 M143.7,178.6 L148.3,178.6" stroke="#3cae78" stroke-width="0.8"/>
<circle cx="146" cy="171.8" r="2.6" fill="#fff" stroke="#3cae78" stroke-width="0.8"/>
<text x="154.00" y="155.00" font-size="8.66" fill="#222" stroke="#222" stroke-width="0.22" textLength="40.60" lengthAdjust="spacingAndGlyphs">Reference</text>
<text x="154.00" y="174.90" font-size="8.66" fill="#222" stroke="#222" stroke-width="0.22" textLength="63.00" lengthAdjust="spacingAndGlyphs">Single-layer WS</text>
<text x="217.30" y="178.00" font-size="5.80" fill="#222" stroke="#222" stroke-width="0.22">2</text>
<text x="283.40" y="137.90" font-size="12.20" fill="#000" font-weight="bold">d</text>
<line x1="359.20" y1="139.50" x2="359.20" y2="329.80" stroke="#cfcfcf" stroke-width="0.90" stroke-dasharray="2.4,2.2"/>
<line x1="405.90" y1="139.50" x2="405.90" y2="329.80" stroke="#cfcfcf" stroke-width="0.90" stroke-dasharray="2.4,2.2"/>
<line x1="474.90" y1="139.50" x2="474.90" y2="329.80" stroke="#cfcfcf" stroke-width="0.90" stroke-dasharray="2.4,2.2"/>
<path d="M312.5,138.5 L521.5,138.5 L521.5,329.8" stroke="#a2a2a2" stroke-width="1.1" fill="none"/>
<line x1="312.50" y1="329.80" x2="521.50" y2="329.80" stroke="#cfcfcf" stroke-width="1.30" />
<line x1="312.50" y1="138.50" x2="312.50" y2="329.80" stroke="#8a8a8a" stroke-width="1.10" />
<rect x="438.4" y="136" width="4.3" height="4.6" fill="#fff"/>
<rect x="438.2" y="327.6" width="4.5" height="4.6" fill="#fff"/>
<line x1="436.80" y1="141.60" x2="440.50" y2="134.40" stroke="#444" stroke-width="0.80" stroke-dasharray="1.2,0.6"/>
<line x1="440.50" y1="141.80" x2="444.30" y2="134.40" stroke="#444" stroke-width="0.80" stroke-dasharray="1.2,0.6"/>
<line x1="436.40" y1="333.40" x2="440.50" y2="326.10" stroke="#444" stroke-width="0.80" stroke-dasharray="1.2,0.6"/>
<line x1="440.30" y1="333.60" x2="444.30" y2="326.10" stroke="#444" stroke-width="0.80" stroke-dasharray="1.2,0.6"/>
<line x1="312.50" y1="315.50" x2="315.50" y2="315.50" stroke="#888" stroke-width="0.80" />
<text x="308.60" y="317.90" font-size="7.00" fill="#333" stroke="#333" stroke-width="0.22" text-anchor="end">0</text>
<line x1="312.50" y1="283.00" x2="315.50" y2="283.00" stroke="#888" stroke-width="0.80" />
<text x="308.60" y="285.40" font-size="7.00" fill="#333" stroke="#333" stroke-width="0.22" textLength="10.10" lengthAdjust="spacingAndGlyphs" text-anchor="end">0.2</text>
<line x1="312.50" y1="250.50" x2="315.50" y2="250.50" stroke="#888" stroke-width="0.80" />
<text x="308.60" y="252.90" font-size="7.00" fill="#333" stroke="#333" stroke-width="0.22" textLength="10.10" lengthAdjust="spacingAndGlyphs" text-anchor="end">0.4</text>
<line x1="312.50" y1="218.00" x2="315.50" y2="218.00" stroke="#888" stroke-width="0.80" />
<text x="308.60" y="220.40" font-size="7.00" fill="#333" stroke="#333" stroke-width="0.22" textLength="10.10" lengthAdjust="spacingAndGlyphs" text-anchor="end">0.6</text>
<line x1="312.50" y1="185.50" x2="315.50" y2="185.50" stroke="#888" stroke-width="0.80" />
<text x="308.60" y="187.90" font-size="7.00" fill="#333" stroke="#333" stroke-width="0.22" textLength="10.10" lengthAdjust="spacingAndGlyphs" text-anchor="end">0.8</text>
<line x1="312.50" y1="153.00" x2="315.50" y2="153.00" stroke="#888" stroke-width="0.80" />
<text x="308.60" y="155.40" font-size="7.00" fill="#333" stroke="#333" stroke-width="0.22" textLength="10.10" lengthAdjust="spacingAndGlyphs" text-anchor="end">1.0</text>
<line x1="311.50" y1="329.80" x2="311.50" y2="327.60" stroke="#888" stroke-width="0.80" />
<text x="307.00" y="340.90" font-size="7.00" fill="#333" stroke="#333" stroke-width="0.22">10</text>
<text x="315.20" y="336.70" font-size="4.50" fill="#333" stroke="#333" stroke-width="0.22">0</text>
<line x1="359.20" y1="329.80" x2="359.20" y2="327.60" stroke="#888" stroke-width="0.80" />
<text x="353.80" y="340.90" font-size="7.00" fill="#333" stroke="#333" stroke-width="0.22">10</text>
<text x="362.00" y="336.70" font-size="4.50" fill="#333" stroke="#333" stroke-width="0.22">1</text>
<line x1="405.90" y1="329.80" x2="405.90" y2="327.60" stroke="#888" stroke-width="0.80" />
<text x="400.50" y="340.90" font-size="7.00" fill="#333" stroke="#333" stroke-width="0.22">10</text>
<text x="408.70" y="336.70" font-size="4.50" fill="#333" stroke="#333" stroke-width="0.22">2</text>
<line x1="474.90" y1="329.80" x2="474.90" y2="327.60" stroke="#888" stroke-width="0.80" />
<text x="469.50" y="340.90" font-size="7.00" fill="#333" stroke="#333" stroke-width="0.22">10</text>
<text x="477.70" y="336.70" font-size="4.50" fill="#333" stroke="#333" stroke-width="0.22">7</text>
<line x1="521.20" y1="329.80" x2="521.20" y2="327.60" stroke="#888" stroke-width="0.80" />
<text x="515.80" y="340.90" font-size="7.00" fill="#333" stroke="#333" stroke-width="0.22">10</text>
<text x="524.00" y="336.70" font-size="4.50" fill="#333" stroke="#333" stroke-width="0.22">8</text>
<line x1="340.60" y1="329.80" x2="340.60" y2="328.20" stroke="#777" stroke-width="0.70" />
<line x1="352.00" y1="329.80" x2="352.00" y2="328.20" stroke="#777" stroke-width="0.70" />
<line x1="387.30" y1="329.80" x2="387.30" y2="328.20" stroke="#777" stroke-width="0.70" />
<line x1="398.40" y1="329.80" x2="398.40" y2="328.20" stroke="#777" stroke-width="0.70" />
<line x1="434.30" y1="329.80" x2="434.30" y2="328.20" stroke="#777" stroke-width="0.70" />
<line x1="456.30" y1="329.80" x2="456.30" y2="328.20" stroke="#777" stroke-width="0.70" />
<line x1="467.60" y1="329.80" x2="467.60" y2="328.20" stroke="#777" stroke-width="0.70" />
<line x1="503.00" y1="329.80" x2="503.00" y2="328.20" stroke="#777" stroke-width="0.70" />
<line x1="514.30" y1="329.80" x2="514.30" y2="328.20" stroke="#777" stroke-width="0.70" />
<text x="375.00" y="354.80" font-size="8.60" fill="#222" stroke="#222" stroke-width="0.22" textLength="84.50" lengthAdjust="spacingAndGlyphs">Cu resistivity (µΩ cm)</text>
<text transform="translate(291.8,281.6) rotate(-90)" font-size="8.6" fill="#222" textLength="95.8" lengthAdjust="spacingAndGlyphs">Cumulative distribution</text>
<rect x="360.1" y="150.2" width="5.6" height="5.6" fill="#139447"/>
<rect x="360.1" y="162.7" width="5.6" height="5.6" fill="#139447"/>
<rect x="360.1" y="175.1" width="5.6" height="5.6" fill="#139447"/>
<rect x="360.1" y="187.6" width="5.6" height="5.6" fill="#139447"/>
<rect x="360.1" y="200.1" width="5.6" height="5.6" fill="#139447"/>
<rect x="360.1" y="212.5" width="5.6" height="5.6" fill="#139447"/>
<rect x="360.1" y="225.0" width="5.6" height="5.6" fill="#139447"/>
<rect x="360.1" y="237.5" width="5.6" height="5.6" fill="#139447"/>
<rect x="360.1" y="250.0" width="5.6" height="5.6" fill="#139447"/>
<rect x="360.1" y="262.4" width="5.6" height="5.6" fill="#139447"/>
<rect x="360.1" y="274.9" width="5.6" height="5.6" fill="#139447"/>
<rect x="360.1" y="287.4" width="5.6" height="5.6" fill="#139447"/>
<rect x="360.1" y="299.8" width="5.6" height="5.6" fill="#139447"/>
<circle cx="504.9" cy="152.7" r="3.2" fill="#f0692d"/>
<circle cx="500.3" cy="164.7" r="3.2" fill="#f0692d"/>
<circle cx="499.7" cy="176.2" r="3.2" fill="#f0692d"/>
<circle cx="499.5" cy="187.8" r="3.2" fill="#f0692d"/>
<circle cx="498.8" cy="199.4" r="3.2" fill="#f0692d"/>
<circle cx="498.6" cy="211.1" r="3.2" fill="#f0692d"/>
<circle cx="498.4" cy="222.8" r="3.2" fill="#f0692d"/>
<circle cx="498.3" cy="234.2" r="3.2" fill="#f0692d"/>
<circle cx="498.2" cy="245.6" r="3.2" fill="#f0692d"/>
<circle cx="498.1" cy="257.2" r="3.2" fill="#f0692d"/>
<circle cx="497.9" cy="268.9" r="3.2" fill="#f0692d"/>
<circle cx="497.9" cy="280.5" r="3.2" fill="#f0692d"/>
<circle cx="497.7" cy="292.3" r="3.2" fill="#f0692d"/>
<circle cx="495.9" cy="303.6" r="3.2" fill="#f0692d"/>
<line x1="492.90" y1="227.70" x2="373.00" y2="227.70" stroke="#111" stroke-width="1.20" />
<polygon points="369.20,227.70 374.20,225.50 374.20,229.90" fill="#111" />
<text x="420.70" y="222.40" font-size="7.50" fill="#222" stroke="#222" stroke-width="0.22">×</text>
<text x="424.90" y="223.40" font-size="9.20" fill="#222" stroke="#222" stroke-width="0.22" textLength="9.40" lengthAdjust="spacingAndGlyphs">10</text>
<text x="434.00" y="219.40" font-size="6.40" fill="#222" stroke="#222" stroke-width="0.22" textLength="7.20" lengthAdjust="spacingAndGlyphs">−5</text>
<rect x="378.5" y="151.2" width="89" height="33" fill="#fff"/>
<circle cx="387.2" cy="159.7" r="5.2" fill="#f0692d"/>
<rect x="383.1" y="170.1" width="8.7" height="8.8" fill="#139447"/>
<text x="397.40" y="163.00" font-size="8.80" fill="#222" stroke="#222" stroke-width="0.22" textLength="40.70" lengthAdjust="spacingAndGlyphs">Reference</text>
<text x="397.40" y="177.80" font-size="8.80" fill="#222" stroke="#222" stroke-width="0.22" textLength="62.60" lengthAdjust="spacingAndGlyphs">Single-layer WS</text>
<text x="460.00" y="181.00" font-size="5.90" fill="#222" stroke="#222" stroke-width="0.22">2</text>
<text x="553.90" y="9.00" font-size="12.20" fill="#000" font-weight="bold">e</text>
<rect x="554.3" y="13.2" width="130.7" height="160.4" fill="#6e6e6e"/>
<rect x="554.3" y="13.2" width="130.7" height="160.4" filter="url(#sem1)"/>
<rect x="554.3" y="177.6" width="130.7" height="161.0" fill="#7a7a7a"/>
<rect x="554.3" y="177.6" width="130.7" height="161.0" filter="url(#sem2)"/>
<rect x="607.1" y="39.4" width="73.3" height="72.8" filter="url(#afm1)"/>
<rect x="607.1" y="39.4" width="73.3" height="72.8" fill="none" stroke="#fff" stroke-width="0.8" stroke-dasharray="1.6,1.2"/>
<rect x="607.1" y="203.7" width="73.3" height="72.7" filter="url(#afm2)"/>
<rect x="607.1" y="203.7" width="73.3" height="72.7" fill="none" stroke="#fff" stroke-width="0.8" stroke-dasharray="1.6,1.2"/>
<text x="557.80" y="26.10" font-size="8.50" fill="#eeeeee" textLength="62.00" lengthAdjust="spacingAndGlyphs">Cu (10 nm)/SiO</text>
<text x="619.30" y="28.40" font-size="5.60" fill="#eeeeee">2</text>
<text x="610.10" y="51.40" font-size="8.00" fill="#eeeeee" font-style="italic">R</text>
<text x="615.50" y="54.40" font-size="5.60" fill="#eeeeee" textLength="10.20" lengthAdjust="spacingAndGlyphs">rms</text>
<text x="627.20" y="51.40" font-size="8.00" fill="#eeeeee" textLength="33.60" lengthAdjust="spacingAndGlyphs">= 1.3 nm</text>
<text x="648.70" y="100.70" font-size="8.10" fill="#eeeeee" stroke="#eeeeee" stroke-width="0.20" textLength="18.00" lengthAdjust="spacingAndGlyphs">1 µm</text>
<rect x="639.8" y="105.1" width="35.1" height="2.9" fill="#fff"/>
<text x="566.50" y="162.80" font-size="7.80" fill="#eeeeee" stroke="#eeeeee" stroke-width="0.20" textLength="30.70" lengthAdjust="spacingAndGlyphs">200 nm</text>
<rect x="565.6" y="167.0" width="33.2" height="2.1" fill="#fff"/>
<text x="558.00" y="192.60" font-size="8.60" fill="#eeeeee" textLength="69.50" lengthAdjust="spacingAndGlyphs">Cu (10 nm)/1L WS</text>
<text x="628.00" y="194.80" font-size="5.60" fill="#eeeeee">2</text>
<text x="610.50" y="215.80" font-size="8.00" fill="#eeeeee" font-style="italic">R</text>
<text x="616.30" y="218.40" font-size="5.60" fill="#eeeeee" textLength="9.80" lengthAdjust="spacingAndGlyphs">rms</text>
<text x="628.50" y="215.80" font-size="8.00" fill="#eeeeee" textLength="34.90" lengthAdjust="spacingAndGlyphs">= 0.6 nm</text>
<text x="649.00" y="264.60" font-size="8.10" fill="#eeeeee" stroke="#eeeeee" stroke-width="0.20" textLength="18.00" lengthAdjust="spacingAndGlyphs">1 µm</text>
<rect x="639.8" y="269.5" width="35.5" height="2.2" fill="#fff"/>
<text x="566.50" y="328.00" font-size="7.80" fill="#eeeeee" stroke="#eeeeee" stroke-width="0.20" textLength="31.40" lengthAdjust="spacingAndGlyphs">200 nm</text>
<rect x="565.9" y="332.1" width="32.7" height="2.5" fill="#fff"/>
<rect x="571.7" y="343.8" width="99.4" height="6.1" fill="url(#gcbar)" stroke="#999" stroke-width="0.5"/>
<text x="559.30" y="349.90" font-size="8.20" fill="#222" stroke="#222" stroke-width="0.22" textLength="8.40" lengthAdjust="spacingAndGlyphs">−6</text>
<text x="674.60" y="349.90" font-size="8.20" fill="#222" stroke="#222" stroke-width="0.22">6</text>
<text x="588.80" y="360.50" font-size="8.80" fill="#222" stroke="#222" stroke-width="0.22" textLength="65.70" lengthAdjust="spacingAndGlyphs">AFM height (nm)</text>
</svg>
</body></html>
